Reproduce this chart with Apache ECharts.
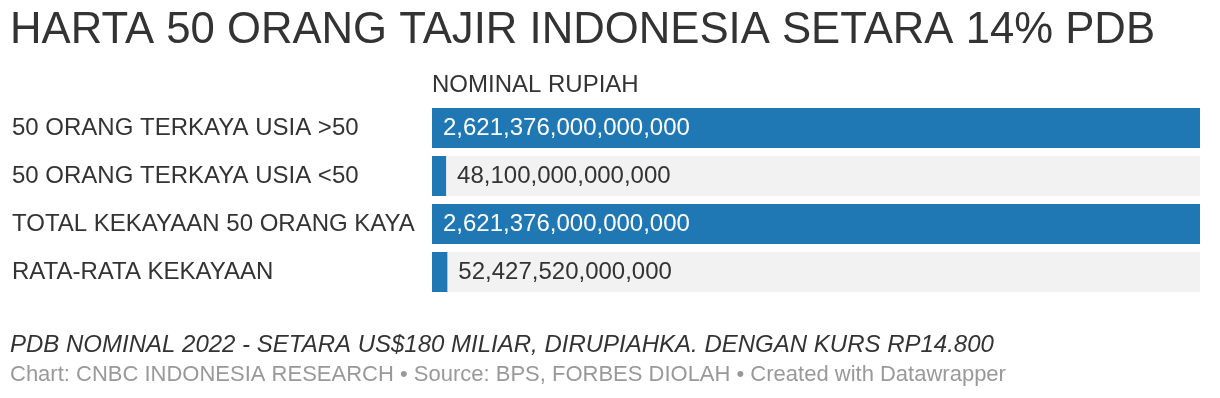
<!DOCTYPE html>
<html><head><meta charset="utf-8">
<script src="https://cdn.jsdelivr.net/npm/echarts@6/dist/echarts.min.js"></script>
<style>html,body{margin:0;padding:0;background:#fff}#c{width:1220px;height:398px}</style>
</head><body><div id="c"></div>
<script>
const categories = ["50 ORANG TERKAYA USIA >50","50 ORANG TERKAYA USIA <50","TOTAL KEKAYAAN 50 ORANG KAYA","RATA-RATA KEKAYAAN"];
const values = [2621376000000000, 48100000000000, 2621376000000000, 52427520000000];
const titleText = "HARTA 50 ORANG TAJIR INDONESIA SETARA 14% PDB";
const columnHeader = "NOMINAL RUPIAH";
const noteText = "PDB NOMINAL 2022 - SETARA US$180 MILIAR, DIRUPIAHKA. DENGAN KURS RP14.800";
const sourceText = "Chart: CNBC INDONESIA RESEARCH • Source: BPS, FORBES DIOLAH • Created with Datawrapper";

const FONT = "Liberation Sans, Arial, Helvetica, sans-serif";
const maxV = Math.max(...values);
const fmt = v => v.toLocaleString('en-US');
const data = values.map(v => v / maxV > 0.3
  ? {value: v, label: {position: 'insideLeft', distance: 11, color: '#ffffff'}}
  : {value: v, label: {position: 'right', distance: 11, color: '#333333'}});

const chart = echarts.init(document.getElementById('c'), null, {renderer: 'canvas'});
chart.setOption({
  animation: false,
  title: [
    {text: titleText, left: 10, top: 9, padding: 0, textStyle: {fontFamily: FONT, fontSize: 43.7, fontWeight: 'normal', color: '#333333'}},
    {text: columnHeader, left: 432, top: 73, padding: 0, textStyle: {fontFamily: FONT, fontSize: 24, fontWeight: 'normal', color: '#333333'}},
    {text: noteText, left: 10, top: 333, padding: 0, textStyle: {fontFamily: FONT, fontSize: 24, fontWeight: 'normal', fontStyle: 'italic', color: '#333333'}},
    {text: sourceText, left: 10, top: 364, padding: 0, textStyle: {fontFamily: FONT, fontSize: 22, fontWeight: 'normal', color: '#999999'}}
  ],
  grid: {left: 432, right: 20, top: 104, height: 192},
  xAxis: {type: 'value', min: 0, max: maxV, show: false},
  yAxis: {
    type: 'category', data: categories, inverse: true,
    axisLine: {show: false}, axisTick: {show: false}, splitLine: {show: false},
    axisLabel: {align: 'left', margin: 420, fontFamily: FONT, fontSize: 24, color: '#333333'}
  },
  series: [{
    type: 'bar', data: data, barWidth: 40,
    itemStyle: {color: '#1f77b4'},
    showBackground: true, backgroundStyle: {color: '#f2f2f2'},
    label: {show: true, formatter: p => fmt(p.value), fontFamily: FONT, fontSize: 24}
  }]
});
</script></body></html>
